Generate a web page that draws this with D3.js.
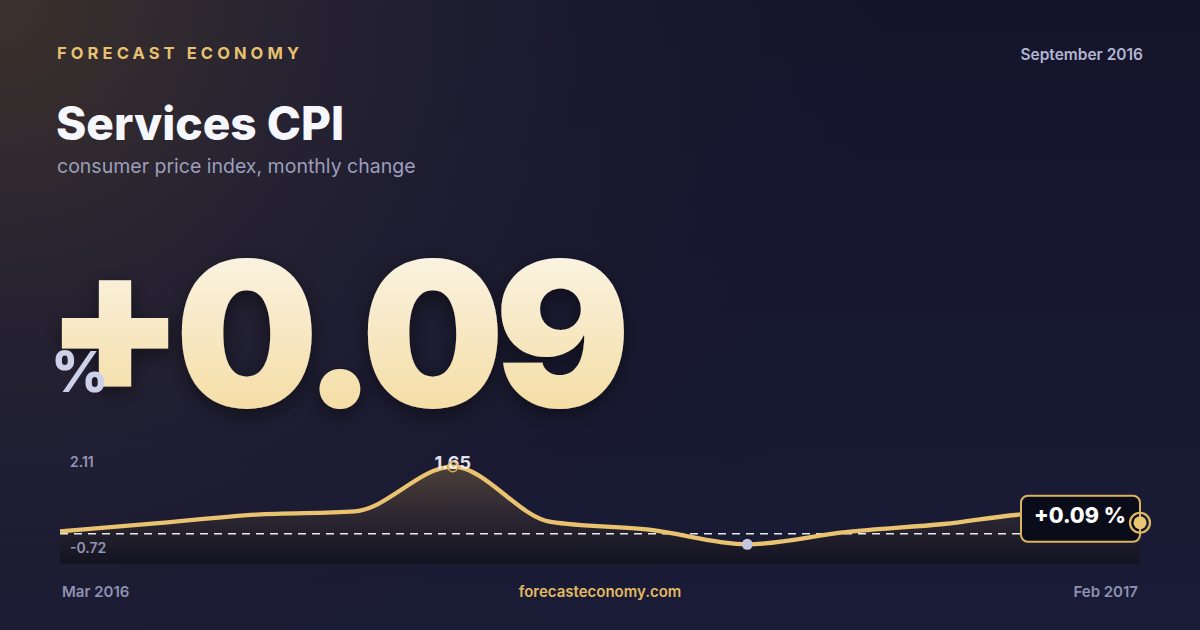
<!DOCTYPE html>
<html><head><meta charset="utf-8">
<script src="https://cdn.jsdelivr.net/npm/d3@7/dist/d3.min.js"></script>
<style>
html,body{margin:0;padding:0;background:#161830;}
svg{display:block;font-family:Inter,"Noto Sans",sans-serif;}
</style></head>
<body>
<svg id="c" width="1200" height="630"></svg>
<script>
// ---- data ----
const months = ["Mar 2016","Apr 2016","May 2016","Jun 2016","Jul 2016","Aug 2016","Sep 2016","Oct 2016","Nov 2016","Dec 2016","Jan 2017","Feb 2017"];
const values = [0.06, 0.26, 0.47, 0.55, 1.65, 0.29, 0.10, -0.26, 0.04, 0.24, 0.50, 0.27];
const yDomain = [-0.72, 2.11];
const yTickLabels = ["2.11", "-0.72"];
const headlineSign = "+";
const headlineNum = "0.09";
const currentLabel = "+0.09 %";
const peakLabel = "1.65";

const W = 1200, H = 630;
const svg = d3.select("#c");
const defs = svg.append("defs");

// background
const bg = defs.append("radialGradient").attr("id","bgGlow").attr("cx","0").attr("cy","0").attr("r","0.75")
  .attr("gradientTransform","scale(1,1.9)");
bg.append("stop").attr("offset","0").attr("stop-color","#3c312b");
bg.append("stop").attr("offset","0.35").attr("stop-color","#262232");
bg.append("stop").attr("offset","1").attr("stop-color","#161830").attr("stop-opacity","0");
const bgv = defs.append("linearGradient").attr("id","bgBase").attr("x1",0).attr("y1",0).attr("x2",0).attr("y2",1);
bgv.append("stop").attr("offset","0").attr("stop-color","#14152b");
bgv.append("stop").attr("offset","1").attr("stop-color","#1a1b36");
svg.append("rect").attr("width",W).attr("height",H).attr("fill","url(#bgBase)");
svg.append("rect").attr("width",W).attr("height",H).attr("fill","url(#bgGlow)");

// header
svg.append("text").attr("x",57).attr("y",59).text("FORECAST ECONOMY")
  .attr("fill","#e8c170").attr("font-size",16.5).attr("font-weight",700).attr("letter-spacing","4.1px");
svg.append("text").attr("x",1143).attr("y",60).attr("text-anchor","end").text("September 2016")
  .attr("fill","#b3b5d0").attr("font-size",15.5).attr("font-weight",600);
svg.append("text").attr("x",56).attr("y",140).text("Services CPI")
  .attr("fill","#f6f7fc").attr("font-size",46).attr("font-weight",800);
svg.append("text").attr("x",57).attr("y",173).text("consumer price index, monthly change")
  .attr("fill","#9c9ebb").attr("font-size",19.5).attr("font-weight",400);

// headline number
const hg = defs.append("linearGradient").attr("id","numGrad").attr("x1",0).attr("y1",0).attr("x2",0).attr("y2",1);
hg.append("stop").attr("offset","0").attr("stop-color","#fcfbf7");
hg.append("stop").attr("offset","1").attr("stop-color","#f3d794");
const sh = defs.append("filter").attr("id","numShadow").attr("x","-10%").attr("y","-10%").attr("width","120%").attr("height","130%");
sh.append("feDropShadow").attr("dx",0).attr("dy",6).attr("stdDeviation",10).attr("flood-color","#000").attr("flood-opacity",0.45);
const big = svg.append("text").attr("x",45).attr("y",407)
  .attr("fill","url(#numGrad)").attr("font-size",202).attr("font-weight",900).attr("letter-spacing","-10px")
  .attr("filter","url(#numShadow)");
big.append("tspan").attr("dy",-14).text(headlineSign);
big.append("tspan").attr("dy",14).text(headlineNum);
svg.append("text").attr("x",51).attr("y",392).text("%")
  .attr("fill","#cdd0e8").attr("font-size",56).attr("font-weight",800);

// chart
const x = d3.scalePoint().domain(months).range([60,1140]);
const y = d3.scaleLinear().domain(yDomain).range([563,448]);
const chartBottom = 564;

const ag = defs.append("linearGradient").attr("id","areaGrad").attr("x1",0).attr("y1",0).attr("x2",0).attr("y2",1);
ag.append("stop").attr("offset","0").attr("stop-color","#5a4a3a").attr("stop-opacity",0.75);
ag.append("stop").attr("offset","0.55").attr("stop-color","#2c2630").attr("stop-opacity",0.85);
ag.append("stop").attr("offset","1").attr("stop-color","#121220").attr("stop-opacity",0.95);

const pts = months.map((m,i)=>({m, v: values[i]}));
const area = d3.area().x(d=>x(d.m)).y0(chartBottom).y1(d=>y(d.v)).curve(d3.curveMonotoneX);
const line = d3.line().x(d=>x(d.m)).y(d=>y(d.v)).curve(d3.curveMonotoneX);

svg.append("path").datum(pts).attr("d",area).attr("fill","url(#areaGrad)");
svg.append("line").attr("x1",x(months[0])).attr("x2",x(months[months.length-1]))
  .attr("y1",y(0)).attr("y2",y(0)).attr("stroke","#ffffff").attr("stroke-opacity",0.9)
  .attr("stroke-width",1.3).attr("stroke-dasharray","8,6");
svg.append("path").datum(pts).attr("d",line).attr("fill","none").attr("stroke","#e9c36f")
  .attr("stroke-width",4.3).attr("stroke-linejoin","round").attr("stroke-linecap","butt");

// y labels
svg.append("text").attr("x",70).attr("y",y(yDomain[1])+19).text(yTickLabels[0])
  .attr("fill","#9395b6").attr("font-size",14).attr("font-weight",600);
svg.append("text").attr("x",70).attr("y",y(yDomain[0])-10.5).text(yTickLabels[1])
  .attr("fill","#9395b6").attr("font-size",14).attr("font-weight",600);

// peak marker
const iMax = d3.maxIndex(values), iMin = d3.minIndex(values), iLast = values.length-1;
svg.append("text").attr("x",x(months[iMax])).attr("y",y(values[iMax])+2).attr("text-anchor","middle")
  .text(peakLabel).attr("fill","#f1f1f6").attr("font-size",18).attr("font-weight",700).attr("fill-opacity",0.95);
svg.append("circle").attr("cx",x(months[iMax])).attr("cy",y(values[iMax])).attr("r",5)
  .attr("fill","none").attr("stroke","#d9ad55").attr("stroke-width",1.5);
// min marker
svg.append("circle").attr("cx",x(months[iMin])).attr("cy",y(values[iMin])).attr("r",5.5).attr("fill","#c3c6de");

// current label box
const lx = x(months[iLast]), ly = y(values[iLast]);
svg.append("rect").attr("x",lx-119).attr("y",ly-27).attr("width",119).attr("height",46).attr("rx",7)
  .attr("fill","#0b0c1a").attr("stroke","#dab463").attr("stroke-width",2);
svg.append("text").attr("x",lx-106).attr("y",ly+0.5).text(currentLabel)
  .attr("fill","#ffffff").attr("font-size",21.5).attr("font-weight",800);
svg.append("circle").attr("cx",lx).attr("cy",ly).attr("r",10).attr("fill","none").attr("stroke","#e2b95f").attr("stroke-width",2.2);
svg.append("circle").attr("cx",lx).attr("cy",ly).attr("r",6.5).attr("fill","#eac673");

// footer
svg.append("text").attr("x",62).attr("y",597).text(months[0])
  .attr("fill","#8e91b2").attr("font-size",15).attr("font-weight",600);
svg.append("text").attr("x",1138).attr("y",597).attr("text-anchor","end").text(months[months.length-1])
  .attr("fill","#8e91b2").attr("font-size",15).attr("font-weight",600);
svg.append("text").attr("x",600).attr("y",597).attr("text-anchor","middle").text("forecasteconomy.com")
  .attr("fill","#e2ba62").attr("font-size",15).attr("font-weight",600);
</script>
</body></html>
